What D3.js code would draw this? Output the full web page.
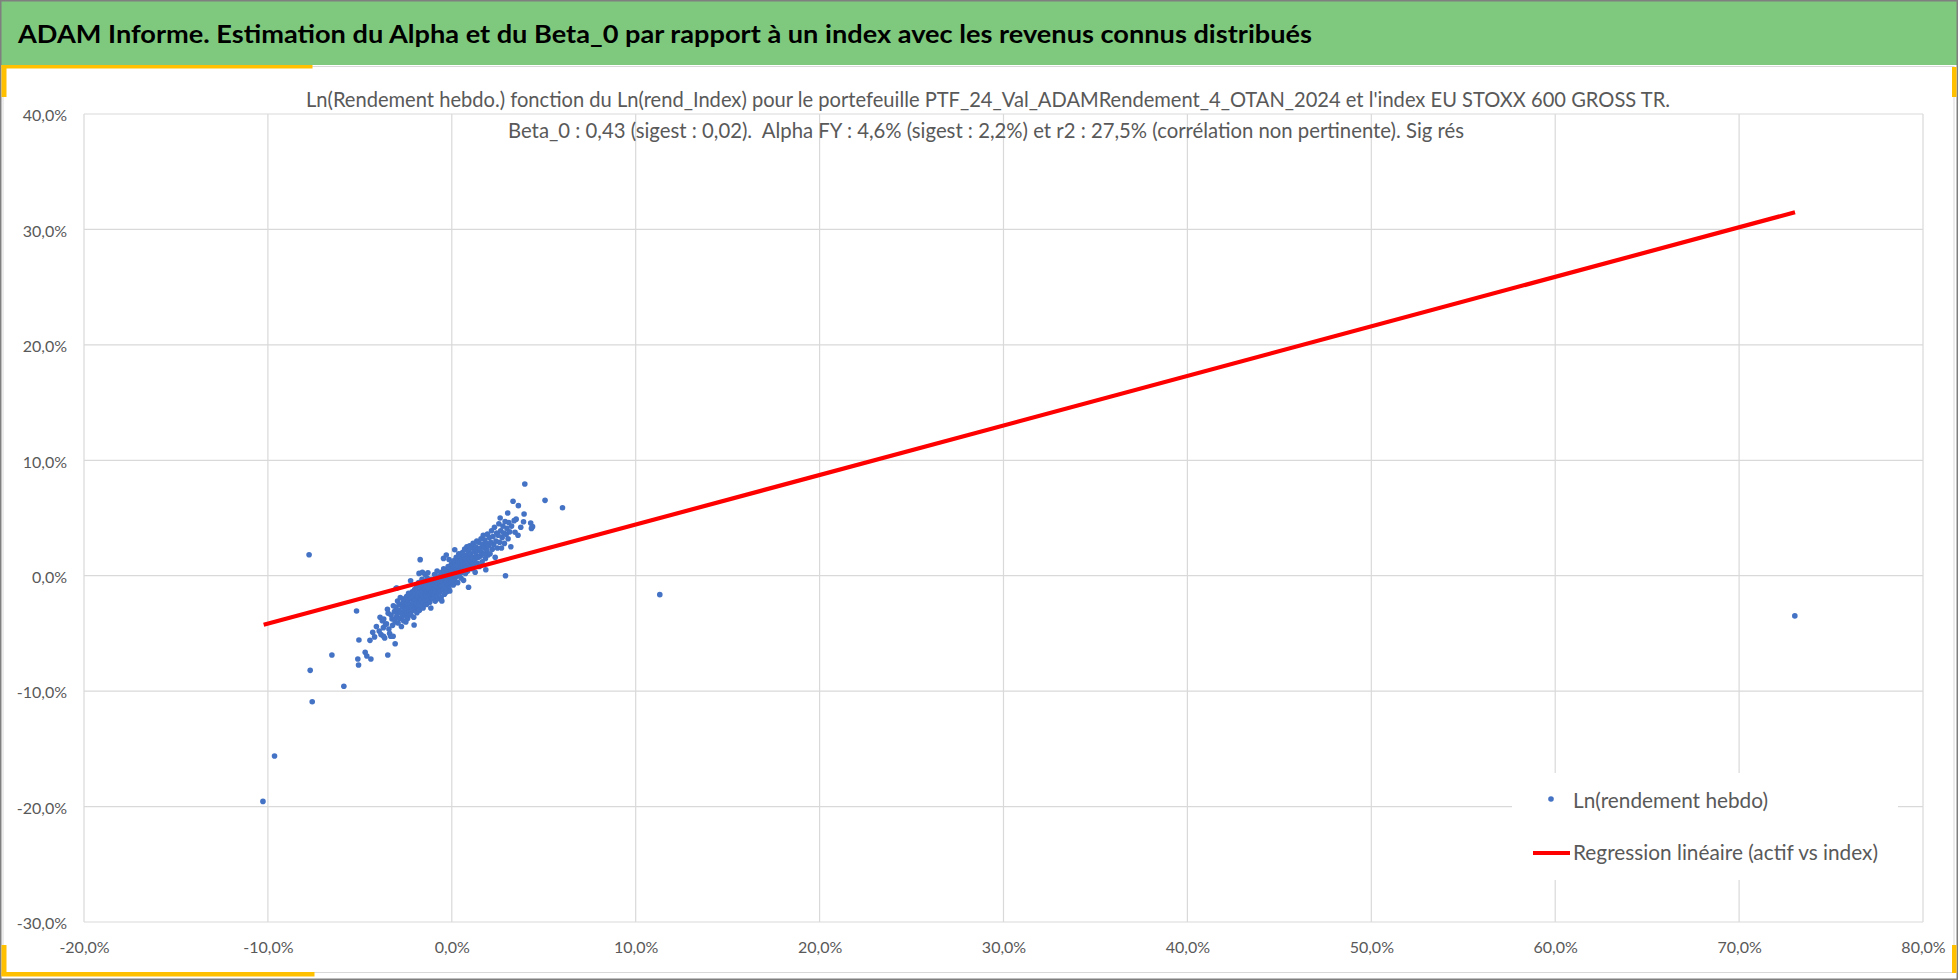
<!DOCTYPE html>
<html>
<head>
<meta charset="utf-8">
<script src="https://cdn.jsdelivr.net/npm/d3@7"></script>
<style>
  body { margin: 0; background: #fff; }
  svg { display: block; font-family: Lato, "Open Sans", sans-serif; }
</style>
</head>
<body>
<svg id="chart" width="1958" height="980"></svg>
<script>
// values (percent)
const headerTitle = "ADAM Informe. Estimation du Alpha et du Beta_0 par rapport à un index avec les revenus connus distribués";
const subtitleLines = [
  "Ln(Rendement hebdo.) fonction du Ln(rend_Index) pour le portefeuille PTF_24_Val_ADAMRendement_4_OTAN_2024 et l'index EU STOXX 600 GROSS TR.",
  "Beta_0 : 0,43 (sigest : 0,02).  Alpha FY : 4,6% (sigest : 2,2%) et r2 : 27,5% (corrélation non pertinente). Sig rés"
];
const legendLabels = ["Ln(rendement hebdo)", "Regression linéaire (actif vs index)"];

const xTicks = [-20, -10, 0, 10, 20, 30, 40, 50, 60, 70, 80];
const yTicks = [-30, -20, -10, 0, 10, 20, 30, 40];

// isolated weekly points [index, asset]
const outlierPoints = [
  [-10.27, -19.55], [-9.64, -15.62], [-7.76, 1.82], [-7.70, -8.20], [-7.59, -10.92],
  [-6.52, -6.87], [-5.87, -9.58], [-5.18, -3.06], [-5.05, -5.57], [-5.11, -7.22],
  [-5.07, -7.74], [-4.71, -6.64], [-4.62, -6.96], [-4.40, -7.22], [-3.48, -6.87],
  [-3.71, -5.25], [-3.08, -5.89], [-3.19, -5.25], [-3.03, -1.09], [-2.99, -1.07],
  [-1.72, 1.39], [-2.05, -4.27], [-2.35, -1.53], [-2.24, -0.43], [0.16, 2.25],
  [0.91, -1.00], [-0.11, -1.33], [-0.54, -2.19], [-1.14, -2.80], [1.85, 0.52],
  [2.92, 0.00], [3.21, 2.51], [3.04, 5.43], [3.33, 6.45], [3.62, 6.07],
  [3.39, 4.77], [3.44, 3.76], [3.90, 4.68], [3.93, 5.35], [3.97, 7.95],
  [4.29, 4.57], [4.33, 4.10], [4.39, 4.25], [2.63, 5.00], [5.07, 6.53], [6.02, 5.89],
  [11.31, -1.64], [73.03, -3.48]
];

// dense band of weekly points [index, asset]
const clusterPoints = [
  [-4.45, -5.6], [-4.3, -4.9], [-4.2, -5.3], [-4.1, -4.4], [-3.95, -4.8], [-3.9, -3.6],
  [-3.85, -5.1], [-3.78, -3.9], [-3.72, -4.5], [-3.7, -3.75], [-3.65, -5.4], [-3.6, -4.2],
  [-3.55, -4.16], [-3.5, -2.9], [-3.46, -3.26], [-3.42, -4.62], [-3.38, -5.0], [-3.32, -5.25],
  [-3.3, -3.4], [-3.25, -3.75], [-3.22, -4.3], [-3.18, -2.6], [-3.12, -3.1], [-3.08, -4.0],
  [-3.04, -2.74], [-3.02, -3.6],
  [-2.98, -3.3], [-2.95, -2.2], [-2.92, -4.1], [-2.9, -3.0], [-2.86, -2.5], [-2.83, -3.7],
  [-2.8, -1.9], [-2.78, -3.2], [-2.74, -4.4], [-2.7, -2.7], [-2.68, -3.5], [-2.65, -2.3],
  [-2.62, -3.9], [-2.6, -3.0], [-2.57, -2.0], [-2.55, -3.4], [-2.52, -2.6], [-2.5, -4.0],
  [-2.48, -2.9], [-2.46, -1.8], [-2.44, -3.3], [-2.42, -2.4], [-2.4, -3.7], [-2.38, -2.1],
  [-2.33, -2.8], [-2.3, -3.1], [-2.28, -1.6], [-2.26, -2.5], [-2.22, -3.4], [-2.2, -2.0],
  [-2.18, -2.7], [-2.15, -1.4], [-2.13, -3.0], [-2.11, -2.3], [-2.09, -1.8], [-2.07, -3.6],
  [-2.04, -2.6], [-2.02, -1.2], [-2.0, -2.1],
  [-1.98, -2.9], [-1.96, -1.6], [-1.94, -2.4], [-1.92, -0.9], [-1.9, -3.2], [-1.88, -2.0],
  [-1.86, -1.3], [-1.84, -2.7], [-1.82, -1.8], [-1.8, -0.6], [-1.78, -2.3], [-1.76, -3.0],
  [-1.74, -1.5], [-1.7, -2.1], [-1.68, -1.0], [-1.66, -2.6], [-1.64, -1.7], [-1.62, -0.3],
  [-1.6, -2.0], [-1.58, -1.3], [-1.56, -2.8], [-1.54, -0.8], [-1.52, -1.9], [-1.5, -2.4],
  [-1.78, 0.2], [-1.6, 0.3], [-1.45, 0.1], [-1.3, 0.25],
  [-1.48, -1.1], [-1.46, -2.2], [-1.44, -0.5], [-1.42, -1.6], [-1.4, -0.9], [-1.38, -2.5],
  [-1.36, -1.3], [-1.34, -0.2], [-1.32, -1.8], [-1.3, -1.0], [-1.28, -2.1], [-1.26, -0.6],
  [-1.24, -1.5], [-1.22, -1.2], [-1.2, -2.3], [-1.18, -0.8], [-1.16, -1.7], [-1.12, -0.3],
  [-1.1, -1.4], [-1.08, -1.0], [-1.06, -1.9], [-1.04, -0.5], [-1.02, -1.3], [-1.0, -2.0],
  [-0.98, -0.8], [-0.96, -1.6], [-0.94, 0.1], [-0.92, -1.1], [-0.9, -2.2], [-0.88, -0.4],
  [-0.86, -1.4], [-0.84, -0.9], [-0.82, -1.8], [-0.8, 0.4], [-0.78, -0.6], [-0.76, -1.2],
  [-0.74, -2.0], [-0.72, -0.2], [-0.7, -1.0], [-0.68, -1.5], [-0.66, 0.0], [-0.64, -0.7],
  [-0.62, -1.3], [-0.6, -0.4], [-0.58, -1.9], [-0.56, 0.3], [-0.52, -0.9], [-0.5, -0.1],
  [-0.48, -1.2], [-0.46, -0.5], [-0.44, 0.6], [-0.42, -0.8], [-0.4, -1.6], [-0.38, 0.1],
  [-0.36, -0.3], [-0.34, -1.0], [-0.32, 0.5], [-0.3, -0.6], [-0.28, -1.4], [-0.26, 0.2],
  [-0.24, -0.2], [-0.22, -0.9], [-0.2, 0.8], [-0.18, -0.4], [-0.16, -1.1], [-0.14, 0.3],
  [-0.12, -0.1], [-0.1, -0.7], [-0.08, 0.6], [-0.06, 0.0], [-0.04, -0.5], [-0.02, 1.0],
  [0.0, 0.2], [-0.45, 1.5], [-0.3, 1.8], [-0.15, 1.4],
  [0.02, -0.3], [0.04, 0.9], [0.06, 0.4], [0.08, -0.8], [0.1, 1.3], [0.12, 0.1],
  [0.14, 0.7], [0.16, -0.4], [0.18, 1.1], [0.2, 0.3], [0.22, -0.1], [0.24, 1.6],
  [0.26, 0.6], [0.28, 0.0], [0.3, 0.9], [0.32, -0.6], [0.34, 1.3], [0.36, 0.4],
  [0.38, 1.9], [0.4, 0.8], [0.42, 0.1], [0.44, 1.2], [0.46, 0.5], [0.48, 1.6], [0.5, -0.2],
  [0.52, 0.9], [0.54, 1.4], [0.56, 0.3], [0.58, 2.0], [0.6, 0.7], [0.62, 1.1],
  [0.64, -0.4], [0.66, 1.6], [0.68, 0.5], [0.7, 2.3], [0.72, 1.0], [0.74, 0.2],
  [0.76, 1.4], [0.78, 1.8], [0.8, 0.8], [0.82, 2.5], [0.84, 1.2], [0.86, 0.4],
  [0.88, 1.7], [0.9, 2.1], [0.93, 1.0], [0.95, 1.5], [0.97, 2.6], [0.99, 0.7],
  [1.02, 1.9], [1.05, 1.2], [1.08, 2.4], [1.1, 0.6], [1.13, 1.6], [1.16, 2.8],
  [1.18, 1.0], [1.21, 2.1], [1.24, 1.4], [1.27, 0.3], [1.3, 2.5], [1.33, 1.8],
  [1.36, 3.0], [1.38, 1.1], [1.41, 2.2], [1.44, 1.6], [1.47, 2.9], [1.5, 0.8],
  [1.53, 2.4], [1.56, 1.7], [1.59, 3.2], [1.62, 2.0], [1.65, 1.2], [1.68, 2.7],
  [1.71, 3.5], [1.74, 1.9], [1.77, 2.4], [1.8, 3.1], [1.83, 1.5], [1.88, 2.8],
  [1.91, 2.2], [1.94, 3.6], [1.97, 1.8],
  [2.0, 2.6], [2.04, 3.3], [2.08, 1.9], [2.12, 2.9], [2.16, 3.9], [2.2, 2.3],
  [2.24, 3.4], [2.28, 2.7], [2.32, 4.2], [2.36, 1.6], [2.4, 3.0], [2.44, 3.7], [2.48, 2.4],
  [2.52, 3.5], [2.56, 4.5], [2.6, 2.9], [2.66, 3.9], [2.7, 2.4], [2.74, 3.3],
  [2.78, 4.3], [2.82, 3.7], [2.86, 2.8], [2.9, 4.7], [2.96, 3.6],
  [3.0, 4.1], [3.06, 3.2], [3.1, 4.6], [3.15, 3.8], [3.25, 4.3], [3.5, 4.9],
  [3.6, 3.5], [3.75, 4.2]
];

// fitted line end points (min and max of the index returns)
const regressionLine = [[-10.23, -4.25], [73.04, 31.49]];

const svg = d3.select("#chart");
const W = 1958, H = 980;

const x = d3.scaleLinear().domain([-20, 80]).range([84, 1923]);
const y = d3.scaleLinear().domain([-30, 40]).range([922, 114]);
const pct = d => d.toFixed(1).replace(".", ",") + "%";

// page frame and header
svg.append("rect").attr("width", W).attr("height", H).attr("fill", "#fff");
svg.append("rect")
  .attr("x", 3).attr("y", 66.5).attr("width", 1951).attr("height", 906)
  .attr("fill", "none").attr("stroke", "#D9D9D9");
svg.append("rect")
  .attr("x", 1).attr("y", 1).attr("width", W - 2).attr("height", 64)
  .attr("fill", "#7FC97F");
svg.append("rect")
  .attr("x", 0.75).attr("y", 0.75).attr("width", W - 1.5).attr("height", H - 1.5)
  .attr("fill", "none").attr("stroke", "#7F7F7F").attr("stroke-width", 1.5);

// gold corner marks
const gold = "#FFC000";
[[1.5, 65, 311, 3.5], [1.5, 65, 5, 32], [1952, 67, 4.5, 30],
 [1.5, 945, 5, 31], [1.5, 972, 313, 4.5], [1952, 945, 4.5, 28]].forEach(r => {
  svg.append("rect").attr("x", r[0]).attr("y", r[1]).attr("width", r[2]).attr("height", r[3]).attr("fill", gold);
});

svg.append("text")
  .attr("x", 18).attr("y", 43)
  .attr("font-size", 25).attr("font-weight", "bold").attr("fill", "#000")
  .attr("textLength", 1294).attr("lengthAdjust", "spacingAndGlyphs")
  .text(headerTitle);

// gridlines
const grid = svg.append("g").attr("class", "grid");
grid.selectAll(".vx").data(xTicks).enter().append("line")
  .attr("x1", d => x(d)).attr("x2", d => x(d))
  .attr("y1", y(-30)).attr("y2", y(40))
  .attr("stroke", "#D9D9D9").attr("stroke-width", 1.2);
grid.selectAll(".hy").data(yTicks).enter().append("line")
  .attr("x1", x(-20)).attr("x2", x(80))
  .attr("y1", d => y(d)).attr("y2", d => y(d))
  .attr("stroke", "#D9D9D9").attr("stroke-width", 1.2);

// axes (labels only)
const xAxis = svg.append("g")
  .attr("transform", `translate(0,${y(-30)})`)
  .call(d3.axisBottom(x).tickValues(xTicks).tickFormat(pct).tickSize(0).tickPadding(20));
const yAxis = svg.append("g")
  .attr("transform", `translate(${x(-20) - 17},0)`)
  .call(d3.axisLeft(y).tickValues(yTicks).tickFormat(pct).tickSize(0).tickPadding(0));
[xAxis, yAxis].forEach(a => {
  a.select(".domain").remove();
  a.selectAll("text")
    .attr("font-family", "Lato, sans-serif")
    .attr("font-size", 16).attr("fill", "#595959");
});
yAxis.selectAll("text").attr("dy", "0.42em");

// subtitle
svg.append("text")
  .attr("x", 306).attr("y", 107)
  .attr("font-size", 22).attr("fill", "#595959")
  .attr("textLength", 1364).attr("lengthAdjust", "spacingAndGlyphs")
  .text(subtitleLines[0]);
svg.append("text")
  .attr("x", 508).attr("y", 138)
  .attr("font-size", 22).attr("fill", "#595959")
  .attr("textLength", 956).attr("lengthAdjust", "spacingAndGlyphs")
  .attr("xml:space", "preserve")
  .text(subtitleLines[1]);

// points
const allPoints = clusterPoints.concat(outlierPoints);
svg.append("g").attr("class", "points")
  .selectAll("circle")
  .data(allPoints)
  .enter().append("circle")
  .attr("cx", d => x(d[0]))
  .attr("cy", d => y(d[1]))
  .attr("r", 2.8)
  .attr("fill", "#4472C4");

// regression line
svg.append("path")
  .datum(regressionLine)
  .attr("d", d3.line().x(d => x(d[0])).y(d => y(d[1])))
  .attr("fill", "none")
  .attr("stroke", "#FF0000")
  .attr("stroke-width", 4.2);

// legend
const legend = svg.append("g").attr("class", "legend");
legend.append("rect")
  .attr("x", 1512).attr("y", 773).attr("width", 386).attr("height", 107)
  .attr("fill", "#fff");
legend.append("circle")
  .attr("cx", 1551).attr("cy", 799).attr("r", 2.8).attr("fill", "#4472C4");
legend.append("line")
  .attr("x1", 1533).attr("x2", 1570).attr("y1", 853).attr("y2", 853)
  .attr("stroke", "#FF0000").attr("stroke-width", 4.2);
legend.selectAll("text")
  .data(legendLabels)
  .enter().append("text")
  .attr("x", 1573)
  .attr("y", (d, i) => i === 0 ? 808 : 860)
  .attr("font-size", 22).attr("fill", "#595959")
  .attr("textLength", (d, i) => i === 0 ? 195 : 305)
  .attr("lengthAdjust", "spacingAndGlyphs")
  .text(d => d);
</script>
</body>
</html>
